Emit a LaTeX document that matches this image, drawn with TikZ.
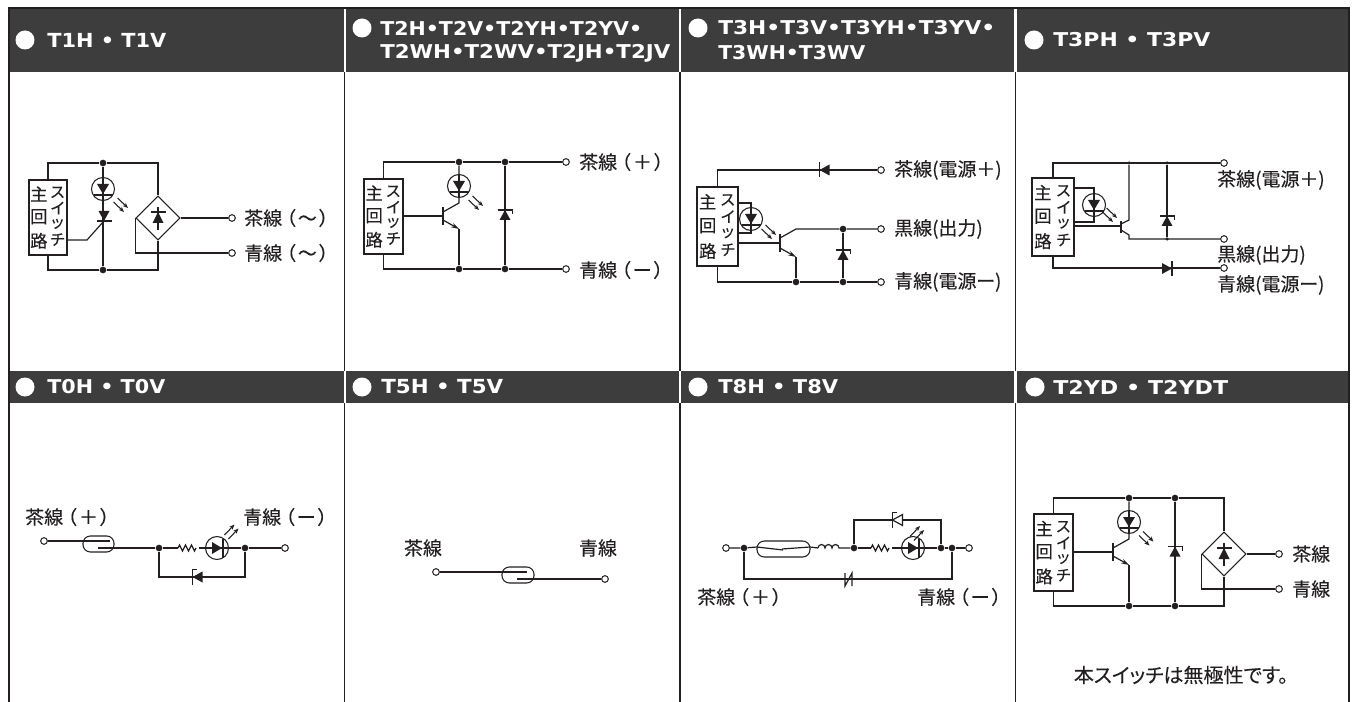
\documentclass[tikz,border=0pt]{standalone}
\usepackage{fontspec}
\usepackage{graphicx}
\usetikzlibrary{arrows.meta,shapes.geometric}
\newfontfamily\jp[RawFeature={+palt},FakeBold=0.15]{Noto Sans CJK JP}
\newfontfamily\hdf{DejaVu Sans}
\definecolor{ink}{HTML}{231F20}
\definecolor{band}{HTML}{3D3D3D}
\newcommand\jpar[2]{#1\kern3pt（\kern1.75pt #2\kern1.75pt）}
\tikzset{
  wire/.style={draw=ink,line width=0.9pt,line join=miter},
  frameline/.style={draw=ink,line width=0.8pt},
  jd/.style={circle,fill=ink,inner sep=0pt,minimum size=5pt},
  sd/.style={circle,fill=ink,inner sep=0pt,minimum size=2.6pt},
  term/.style={circle,draw=ink,fill=white,line width=0.75pt,inner sep=0pt,minimum size=5pt},
  swbox/.style={rectangle,draw=ink,fill=white,line width=0.8pt,inner sep=0pt},
  swchar/.style={inner sep=0pt,text=ink,font=\jp\fontsize{13}{14}\selectfont},
  swkana/.style={inner sep=0pt,text=ink,font=\jp\fontsize{11.6}{12}\selectfont},
  jl/.style={anchor=west,inner sep=0pt,text=ink,font=\jp\fontsize{14.2}{16}\selectfont},
  jc/.style={inner sep=0pt,text=ink,font=\jp\fontsize{14.2}{16}\selectfont},
  jn/.style={inner sep=0pt,text=ink,font=\jp\fontsize{15}{16}\selectfont},
  bridge/.style={diamond,draw=ink,line width=0.8pt,fill=white,inner sep=0pt,minimum size=33pt,aspect=1},
  reed/.style={rectangle,draw=ink,line width=0.8pt,rounded corners=5.5pt,inner sep=0pt},
  ray/.style={draw=ink,line width=0.8pt,-{Stealth[length=4pt,width=3.2pt]}},
  emit/.style={wire,-{Stealth[length=6pt,width=3.6pt]}},
  diode/.pic={
    \fill[ink] (-5.5,-5)--(5.5,-5)--(0,5)--cycle;
    \draw[wire] (-7.5,5)--(7.5,5);
  },
  zener/.pic={
    \fill[ink] (-5.5,-5)--(5.5,-5)--(0,5)--cycle;
    \draw[wire] (7.5,5)--(-7.5,5)--(-7.5,1);
  },
  hzener/.pic={
    \draw[wire,fill=white] (-5.5,-5)--(5.5,-5)--(0,5)--cycle;
    \draw[wire] (7.5,5)--(-7.5,5)--(-7.5,1);
  },
  led/.pic={
    \draw[draw=ink,line width=0.8pt,fill=white] (0,0) circle[radius=11.5];
    \draw[wire] (0,-11.5)--(0,11.5);
    \fill[ink] (-6,-5)--(6,-5)--(0,5)--cycle;
    \draw[wire] (-9.5,6)--(9.5,6);
  },
  rays/.pic={
    \draw[ray] (-3.5,-7)--(7,3);
    \draw[ray] (-7.5,-3)--(3,7);
  },
  bridgein/.pic={
    \draw[wire] (0,-11)--(0,12);
    \fill[ink] (-5.5,5)--(5.5,5)--(0,-6)--cycle;
    \draw[wire] (-7.5,-6)--(7.5,-6);
  },
}
\newcommand\swb[5]{%
  \node[swbox,minimum width={(#4-#2)*0.75pt},minimum height={(#5-#3)*0.75pt}] (#1box) at ({(#2+#4)/2},{(#3+#5)/2}) {};
  \node[swchar] (#1ca) at ({#2+.26*(#4-#2)},{#3+.187*(#5-#3)}) {主};
  \node[swchar] (#1cb) at ({#2+.26*(#4-#2)},{#3+.49*(#5-#3)}) {回};
  \node[swchar] (#1cc) at ({#2+.26*(#4-#2)},{#3+.81*(#5-#3)}) {路};
  \node[swkana] (#1cd) at ({#2+.75*(#4-#2)},{#3+.165*(#5-#3)}) {ス};
  \node[swkana] (#1ce) at ({#2+.75*(#4-#2)},{#3+.375*(#5-#3)}) {イ};
  \node[swkana] (#1cf) at ({#2+.75*(#4-#2)},{#3+.585*(#5-#3)}) {ッ};
  \node[swkana] (#1cg) at ({#2+.75*(#4-#2)},{#3+.795*(#5-#3)}) {チ};
}
\newcommand\hdb[3]{\fill[white] (#2,#3) circle[radius=9.5];}
\newcommand\hdt[5]{\node[anchor=west,inner sep=0pt,text=white] (#1) at (#2,#3) {\resizebox{0.75\dimexpr#4pt\relax}{10.6pt}{\hdf\bfseries #5}};}
\newcommand\zig[2]{\draw[wire] (#1,#2)--++(1.5,-3)--++(3,6)--++(3,-6)--++(3,6)--++(3,-6)--++(3,6)--++(1.5,-3);}
\begin{document}
\begin{tikzpicture}[x=0.75pt,y=-0.75pt]
\useasboundingbox (0,0) rectangle (1359,702);
\fill[white] (0,0) rectangle (1359,702);
% header bands
\foreach \a/\b in {9/343.5,346/679,681/1014,1017/1349}{
  \fill[band] (\a,8) rectangle (\b,72);
  \fill[band] (\a,371) rectangle (\b,403);
}
% frame
\fill[ink] (7.5,7) rectangle (1349,9.5);
\fill[ink] (7.5,7) rectangle (10,702);
\fill[ink] (1347.5,7) rectangle (1350,702);
\foreach \a in {344.7,680,1015.5}{
  \draw[frameline] (\a,72)--(\a,371);
  \draw[frameline] (\a,403)--(\a,702);
}
% header texts
\hdb{}{25}{40}\hdt{h1}{47}{40}{119}{T1H • T1V}
\hdb{}{362}{28}\hdt{h2a}{380}{28}{262}{T2H•T2V•T2YH•T2YV•}\hdt{h2b}{380}{53}{290}{T2WH•T2WV•T2JH•T2JV}
\hdb{}{698}{28}\hdt{h3a}{718}{28}{277}{T3H•T3V•T3YH•T3YV•}\hdt{h3b}{718}{53}{147}{T3WH•T3WV}
\hdb{}{1034}{40}\hdt{h4}{1053}{40}{157}{T3PH • T3PV}
\hdb{}{25}{387}\hdt{h5}{47}{387}{118}{T0H • T0V}
\hdb{}{362}{387}\hdt{h6}{381}{387}{122}{T5H • T5V}
\hdb{}{698}{387}\hdt{h7}{718}{387}{120}{T8H • T8V}
\hdb{}{1035}{387}\hdt{h8}{1053}{387}{175}{T2YD • T2YDT}

%=== T1H
\swb{a}{29}{180}{67}{255}
\node[jd] (au) at (103,163) {};
\node[jd] (al) at (103,270) {};
\coordinate (atr) at (158,163);
\coordinate (abr) at (158,270);
\node[bridge] (ab) at (158,218) {};
\node[term] (at1) at (232,218) {};
\node[term] (at2) at (232,253) {};
\draw[wire] (abox.north) |- (au) (au)--(atr)--(ab.north);
\draw[wire] (abox.south) |- (al) (al)--(abr)--(ab.south);
\draw[wire] (au)--(al);
\draw[wire] (ab.east)--(at1);
\draw[wire] (ab.west) |- (at2);
\coordinate (ag) at (87,240); \coordinate (ah) at (103,222);
\draw[wire] (abox.east |- ag)--(ag)--(ah);
\pic at (103,189) {led};
\pic at (121,205) {rays};
\pic at (104,216) {diode};
\pic at (ab) {bridgein};
\node[jl] (al1) at (244,218) {\jpar{茶線}{～}};
\node[jl] (al2) at (244,253) {\jpar{青線}{～}};

%=== T2H
\swb{b}{364}{179}{403}{254}
\node[jd] (bu1) at (459,162) {};
\node[jd] (bu2) at (505,162) {};
\node[jd] (bl1) at (459,269) {};
\node[jd] (bl2) at (505,269) {};
\node[term] (bt1) at (566,162) {};
\node[term] (bt2) at (566,269) {};
\coordinate (bq) at (443,216);
\coordinate (bc0) at (443,212); \coordinate (bc1) at (459,203);
\coordinate (be0) at (443,220); \coordinate (be1) at (459,229);
\draw[wire] (bbox.north) |- (bu1) (bu1)--(bu2)--(bt1);
\draw[wire] (bbox.south) |- (bl1) (bl1)--(bl2)--(bt2);
\draw[wire] (bu2)--(bl2);
\draw[wire] (bu1)--(bc1)--(bc0);
\draw[emit] (be0)--(be1);
\draw[wire] (be1)--(bl1);
\draw[wire] (bbox.east |- bq)--(bq);
\draw[wire] (443,207)--(443,225);
\pic at (459,186) {led};
\pic at (476,203) {rays};
\pic[rotate=180] at (505,215) {zener};
\node[jl] (bl1t) at (579,162) {\jpar{茶線}{＋}};
\node[jl] (bl2t) at (579,270) {\jpar{青線}{ー}};

%=== T3H
\swb{c}{697}{187}{738}{266}
\node[term] (ct1) at (881,170) {};
\node[term] (ct2) at (881,229) {};
\node[term] (ct3) at (881,282) {};
\node[jd] (cd1) at (843,229) {};
\node[jd] (cd2) at (796,282) {};
\node[jd] (cd3) at (843,282) {};
\draw[wire] (cbox.north) |- (ct1);
\draw[wire] (cbox.south) |- (cd2) (cd2)--(cd3)--(ct3);
\coordinate (cl1) at (751,203); \coordinate (cl2) at (751,233);
\draw[wire] (cbox.east |- cl1)--(cl1)--(cl2)--(cbox.east |- cl2);
\coordinate (cq) at (780,243);
\coordinate (cc0) at (780,238); \coordinate (cc1) at (796,229);
\coordinate (ce0) at (780,248); \coordinate (ce1) at (796,257);
\draw[wire] (cbox.east |- cq)--(cq);
\draw[wire] (780,234)--(780,252);
\draw[wire] (cc0)--(cc1)--(cd1)--(ct2);
\draw[emit] (ce0)--(ce1);
\draw[wire] (ce1)--(cd2);
\draw[wire] (cd1)--(cd3);
\pic at (751,219) {led};
\pic at (769,232) {rays};
\pic[rotate=-90] at (824.5,170) {diode};
\pic[rotate=180] at (843,255) {zener};
\node[jl] (cl1t) at (894,170) {茶線(電源＋)};
\node[jl] (cl2t) at (894,229) {黒線(出力)};
\node[jl] (cl3t) at (894,282) {青線(電源ー)};

%=== T3PH
\swb{d}{1032}{178}{1074}{256}
\node[sd] (du1) at (1129,163) {};
\node[sd] (du2) at (1167,163) {};
\node[sd] (dm) at (1167,239) {};
\node[term] (dt1) at (1224,163) {};
\node[term] (dt2) at (1224,239) {};
\node[term] (dt3) at (1224,268) {};
\draw[wire] (dbox.north) |- (dt1);
\draw[wire] (dbox.south) |- (dt3);
\coordinate (dl1) at (1094,188); \coordinate (dl2) at (1094,222);
\draw[wire] (dbox.east |- dl1)--(dl1)--(dl2)--(dbox.east |- dl2);
\coordinate (dq) at (1121,226);
\coordinate (dc0) at (1121,224); \coordinate (dc1) at (1129,220);
\coordinate (de0) at (1121,230); \coordinate (de1) at (1129,235); \coordinate (de2) at (1129,239);
\draw[wire] (dbox.east |- dq)--(dq);
\draw[wire] (1121,221)--(1121,233);
\draw[wire] (du1)--(dc1)--(dc0);
\draw[wire] (de0)--(de1)--(de2)--(dt2);
\draw[wire] (du2)--(dm);
\pic at (1094,205) {led};
\pic at (1110,215) {rays};
\pic[rotate=180] at (1167,221) {zener};
\pic[rotate=90] at (1167,268.5) {diode};
\node[jl] (dl1t) at (1217,180) {茶線(電源＋)};
\node[jl] (dl2t) at (1217,255) {黒線(出力)};
\node[jl] (dl3t) at (1217,285) {青線(電源ー)};

%=== T0H
\node[term] (et1) at (44,541) {};
\node[term] (et2) at (285,548) {};
\node[jd] (ed1) at (159,548) {};
\node[jd] (ed2) at (245,548) {};
\node[reed,minimum width=23.25pt,minimum height=12pt] (er) at (98.5,544) {};
\coordinate (ec1) at (110,541); \coordinate (ec2) at (98,548);
\coordinate (ez1) at (178,548); \coordinate (ez2) at (199,548);
\coordinate (ef1) at (159,577); \coordinate (ef2) at (245,577);
\draw[wire] (et1)--(ec1);
\draw[wire] (ec2)--(ed1);
\draw[wire] (ed1)--(ez1);
\zig{178}{548}
\draw[wire] (ez2)--(ed2);
\draw[wire] (ed2)--(et2);
\draw[wire] (ed1)--(ef1)--(ef2)--(ed2);
\pic[rotate=90] at (217,548) {led};
\pic[rotate=90] at (231.5,531.5) {rays};
\pic[rotate=-90] at (197.5,577) {zener};
\node[jl] (el1) at (25,517) {\jpar{茶線}{＋}};
\node[jl] (el2) at (243,517) {\jpar{青線}{ー}};

%=== T5H
\node[term] (ft1) at (436,572) {};
\node[term] (ft2) at (605,579) {};
\node[reed,minimum width=24pt,minimum height=12pt] (fr) at (518,575) {};
\coordinate (fc1) at (527,572); \coordinate (fc2) at (517,579);
\draw[wire] (ft1)--(fc1);
\draw[wire] (fc2)--(ft2);
\node[jc] (fl1) at (423,548) {茶線};
\node[jc] (fl2) at (598,548) {青線};

%=== T8H
\node[term] (gt1) at (726,548) {};
\node[jd] (gd1) at (744,548) {};
\node[reed,minimum width=39.75pt,minimum height=12pt] (gr) at (783.5,549) {};
\node[jd] (gd2) at (854,548) {};
\node[jd] (gd3) at (941,548) {};
\node[jd] (gd4) at (952,548) {};
\node[term] (gt2) at (969,548) {};
\coordinate (gc0) at (757,547); \coordinate (gc1) at (783,550); \coordinate (gc2) at (782,549); \coordinate (gc3) at (810,547);
\coordinate (gk0) at (818,548); \coordinate (gk1) at (839,548);
\coordinate (gz0) at (871,548); \coordinate (gz1) at (892,548);
\draw[wire] (gt1)--(gd1)--(gc0)--(gc1);
\draw[wire] (gc2)--(gc3)--(gk0);
\draw[wire] (gk0) arc (180:360:3.5) arc (180:360:3.5) arc (180:360:3.5) -- (gd2);
\draw[wire] (gd2)--(gz0);
\zig{871}{548}
\draw[wire] (gz1)--(gd3);
\draw[wire] (gd3)--(gd4)--(gt2);
\coordinate (gp1) at (854,520); \coordinate (gp2) at (941,520);
\coordinate (gq1) at (744,579); \coordinate (gq2) at (952,579);
\draw[wire] (gd2)--(gp1)--(gp2)--(gd3);
\draw[wire] (gd1)--(gq1)--(gq2)--(gd4);
\pic[rotate=90] at (913,548) {led};
\pic[rotate=90] at (917,533) {rays};
\pic[rotate=-90] at (897.5,520) {hzener};
\draw[wire] (845,573)--(845,586)--(852,573)--(852,586);
\node[jl] (gl1) at (697,597) {\jpar{茶線}{＋}};
\node[jl] (gl2) at (917,597) {\jpar{青線}{ー}};

%=== T2YD
\swb{h}{1034}{514}{1073}{591}
\node[jd] (hu1) at (1129,498) {};
\node[jd] (hu2) at (1175,498) {};
\node[jd] (hl1) at (1129,606) {};
\node[jd] (hl2) at (1175,606) {};
\node[bridge] (hb) at (1224,554) {};
\coordinate (htr) at (1224,498); \coordinate (hbr) at (1224,606);
\node[term] (ht1) at (1279,554) {};
\node[term] (ht2) at (1279,589) {};
\coordinate (hq) at (1113,552);
\coordinate (hc0) at (1113,548); \coordinate (hc1) at (1129,539);
\coordinate (he0) at (1113,556); \coordinate (he1) at (1129,565);
\draw[wire] (hbox.north) |- (hu1) (hu1)--(hu2)--(htr)--(hb.north);
\draw[wire] (hbox.south) |- (hl1) (hl1)--(hl2)--(hbr)--(hb.south);
\draw[wire] (hu2)--(hl2);
\draw[wire] (hu1)--(hc1)--(hc0);
\draw[emit] (he0)--(he1);
\draw[wire] (he1)--(hl1);
\draw[wire] (hbox.east |- hq)--(hq);
\draw[wire] (1113,543)--(1113,561);
\draw[wire] (hb.east)--(ht1);
\draw[wire] (hb.west) |- (ht2);
\pic at (1129,522) {led};
\pic at (1146.5,538.5) {rays};
\pic[rotate=180] at (1175,551.5) {zener};
\pic at (hb) {bridgein};
\node[jl] (hl1t) at (1292,554) {茶線};
\node[jl] (hl2t) at (1292,589) {青線};
\node[jn] (hn) at (1181,675) {本スイッチは無極性です。};
\end{tikzpicture}
\end{document}
